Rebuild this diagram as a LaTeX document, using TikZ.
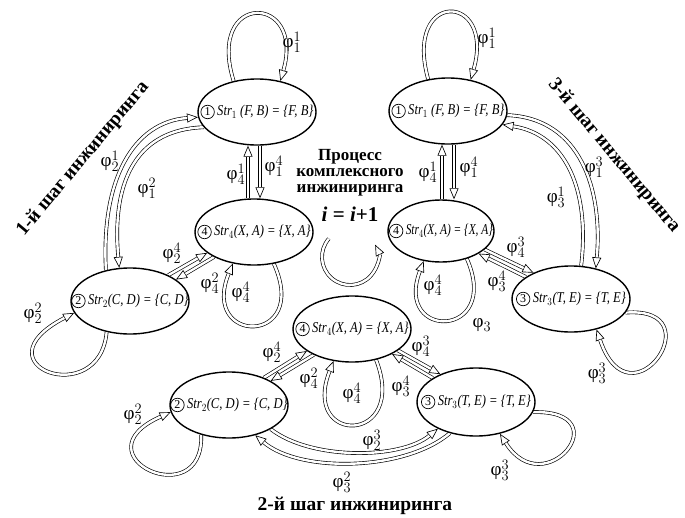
\documentclass[tikz,border=0pt]{standalone}
\usepackage{fontspec}
\usepackage{graphicx}
\setmainfont{Liberation Serif}
\usetikzlibrary{arrows.meta,shapes.geometric,calc}
\pgfdeclarelayer{bg}
\pgfsetlayers{bg,main}

% transition label: phi with stacked indices
\newcommand\phl[2]{$\mbox{φ}^{#1}_{#2}$}
% circled state number
\newcommand\cnum[1]{\tikz[baseline=(cn.base)]\node[circle,draw,line width=0.7pt,inner sep=0pt,minimum size=13.5pt](cn){\upshape\fontsize{12}{12}\selectfont #1};}
% state caption: number + structure
\newcommand\strl[3][0.84]{\cnum{#2}\,\scalebox{#1}[1]{\itshape #3}}

\tikzset{
  st/.style={ellipse, draw, line width=1.4pt, fill=white,
             minimum width=118pt, minimum height=66pt, inner sep=0pt},
  tx/.style={font=\fontsize{15}{15}\selectfont, inner sep=0pt},
  ph/.style={font=\fontsize{19}{19}\selectfont, inner sep=0pt},
  conn/.style={line width=0.65pt, -{Triangle[open,length=11pt,width=9pt]},
               postaction={draw, arrows=-, double=white, double distance=2.4pt,
                           line width=0.65pt, shorten >=11pt}},
  big/.style={font=\fontsize{19.5}{20}\selectfont\bfseries, inner sep=0pt}
}

\begin{document}
\begin{tikzpicture}[x=1pt, y=-1pt]
\useasboundingbox (0,0) rectangle (685,517);

% ---------- states ----------
\node[st] (L1) at (257,112) {};
\node[st] (L4) at (254,232) {};
\node[st] (L2) at (130,301) {};
\node[st] (R1) at (448,111) {};
\node[st, minimum width=106pt, minimum height=62pt] (R4) at (441,231) {};
\node[st] (R3) at (571,299) {};
\node[st] (B4) at (352,329) {};
\node[st] (B2) at (229,405) {};
\node[st, minimum height=68pt] (B3) at (476,402) {};

\node[tx] at (L1) {\strl{1}{Str$_1$ (F, B) = \{F, B\}}};
\node[tx] at (L4) {\strl{4}{Str$_4$(X, A) = \{X, A\}}};
\node[tx] at (L2) {\strl{2}{Str$_2$(C, D) = \{C, D\}}};
\node[tx] at (R1) {\strl{1}{Str$_1$ (F, B) = \{F, B\}}};
\node[tx] at (R4) {\strl[0.76]{4}{Str$_4$(X, A) = \{X, A\}}};
\node[tx] at (R3) {\strl{3}{Str$_3$(T, E) = \{T, E\}}};
\node[tx] at (B4) {\strl{4}{Str$_4$(X, A) = \{X, A\}}};
\node[tx] at (B2) {\strl{2}{Str$_2$(C, D) = \{C, D\}}};
\node[tx] at (B3) {\strl{3}{Str$_3$(T, E) = \{T, E\}}};

\coordinate (la) at ([xshift=-6pt]L4.north);
\coordinate (lb) at ([xshift=6pt]L4.north);
\coordinate (ra) at ([xshift=-6pt]R1.south);
\coordinate (rb) at ([xshift=6pt]R1.south);
\coordinate (cyc) at (350,257);

\begin{pgfonlayer}{bg}
% ---------- step 1 ----------
\draw[conn] (L1.127) .. controls +(-28,-90) and +(25,-88) .. (L1.53);
\draw[conn] (la) -- (la |- L1.south);
\draw[conn] (lb |- L1.south) -- (lb);
\draw[conn] (L2.128) .. controls +(-5,-90) and +(-65,5) .. (L1.185);
\draw[conn] (L1.196) .. controls +(-65,2) and +(-8,-90) .. (L2.108);
\draw[conn] (L2.34) -- (L4.204);
\draw[conn] (L4.212) -- (L2.25);
\draw[conn] (L4.302) .. controls +(37,82) and +(-33,82) .. (L4.236);
\draw[conn] (L2.233) .. controls +(-7,79) and +(-100,52) .. (L2.192);

% ---------- step 3 ----------
\draw[conn] (R1.122) .. controls +(-25,-90) and +(25,-88) .. (R1.54);
\draw[conn] (ra |- R4.north) -- (ra);
\draw[conn] (rb) -- (rb |- R4.north);
\draw[conn] (R1.-4) .. controls +(73,3) and +(7,-79) .. (R3.51);
\draw[conn] (R3.73) .. controls +(9,-76) and +(63,10) .. (R1.-14);
\draw[conn] (R4.-23) -- (R3.145);
\draw[conn] (R3.154) -- (R4.-31);
\draw[conn] (R4.-47) .. controls +(35,80) and +(-30,80) .. (R4.240);
\draw[conn] (R3.-14) .. controls +(90,-7) and +(34,101) .. (R3.-50);

% ---------- step 2 ----------
\draw[conn] (B2.38) -- (B4.206);
\draw[conn] (B4.214) -- (B2.30);
\draw[conn] (B4.-52) .. controls +(33,85) and +(-33,85) .. (B4.240);
\draw[conn] (B4.-25) -- (B3.142);
\draw[conn] (B3.151) -- (B4.-32);
\draw[conn] (B2.-30) .. controls +(40,31) and +(-38,31) .. (B3.215);
\draw[conn] (B3.230) .. controls +(-45,38) and +(45,38) .. (B2.-49);
\draw[conn] (B2.227) .. controls +(3,81) and +(-96,43) .. (B2.187);
\draw[conn] (B3.-10) .. controls +(88,-2) and +(45,71) .. (B3.-53);

% ---------- iteration arrow ----------
\draw[conn] ([shift={(-139:28)}]cyc) arc[start angle=-139, end angle=-386, radius=28];
\end{pgfonlayer}

% ---------- transition labels ----------
\node[ph] at (292,42) {\phl{1}{1}};
\node[ph] at (110,161) {\phl{1}{2}};
\node[ph] at (147,188) {\phl{2}{1}};
\node[ph] at (236,174) {\phl{1}{4}};
\node[ph] at (274,166) {\phl{4}{1}};
\node[ph] at (172,253) {\phl{4}{2}};
\node[ph] at (210,283) {\phl{2}{4}};
\node[ph] at (241,292) {\phl{4}{4}};
\node[ph] at (33,313) {\phl{2}{2}};

\node[ph] at (487,38) {\phl{1}{1}};
\node[ph] at (428,172) {\phl{1}{4}};
\node[ph] at (469,167) {\phl{4}{1}};
\node[ph] at (594,167) {\phl{3}{1}};
\node[ph] at (556,197) {\phl{1}{3}};
\node[ph] at (516,247) {\phl{3}{4}};
\node[ph] at (497,281) {\phl{4}{3}};
\node[ph] at (433,285) {\phl{4}{4}};
\node[ph] at (482,325) {$\mbox{φ}_{3}$};
\node[ph] at (597,373) {\phl{3}{3}};

\node[ph] at (272,352) {\phl{4}{2}};
\node[ph] at (309,378) {\phl{2}{4}};
\node[ph] at (352,393) {\phl{4}{4}};
\node[ph] at (421,346) {\phl{3}{4}};
\node[ph] at (401,386) {\phl{4}{3}};
\node[ph] at (372,440) {\phl{3}{2}};
\node[ph] at (342,482) {\phl{2}{3}};
\node[ph] at (133,414) {\phl{2}{2}};
\node[ph] at (500,470) {\phl{3}{3}};

% ---------- captions ----------
\node[big, rotate=50] (s1) at (83,159) {1-й шаг инжиниринга};
\node[big, rotate=-50] (s3) at (614,156) {3-й шаг инжиниринга};
\node[big] (s2) at (355,506) {2-й шаг инжиниринга};
\node[font=\fontsize{17}{16}\selectfont\bfseries, align=center, inner sep=0pt] (proc) at (350,173)
  {Процесс\\комплексного\\инжиниринга};
\node[font=\fontsize{21}{21}\selectfont\bfseries, inner sep=0pt] (iter) at (350,214)
  {\textit{i} = \textit{i}+1};
\end{tikzpicture}
\end{document}
